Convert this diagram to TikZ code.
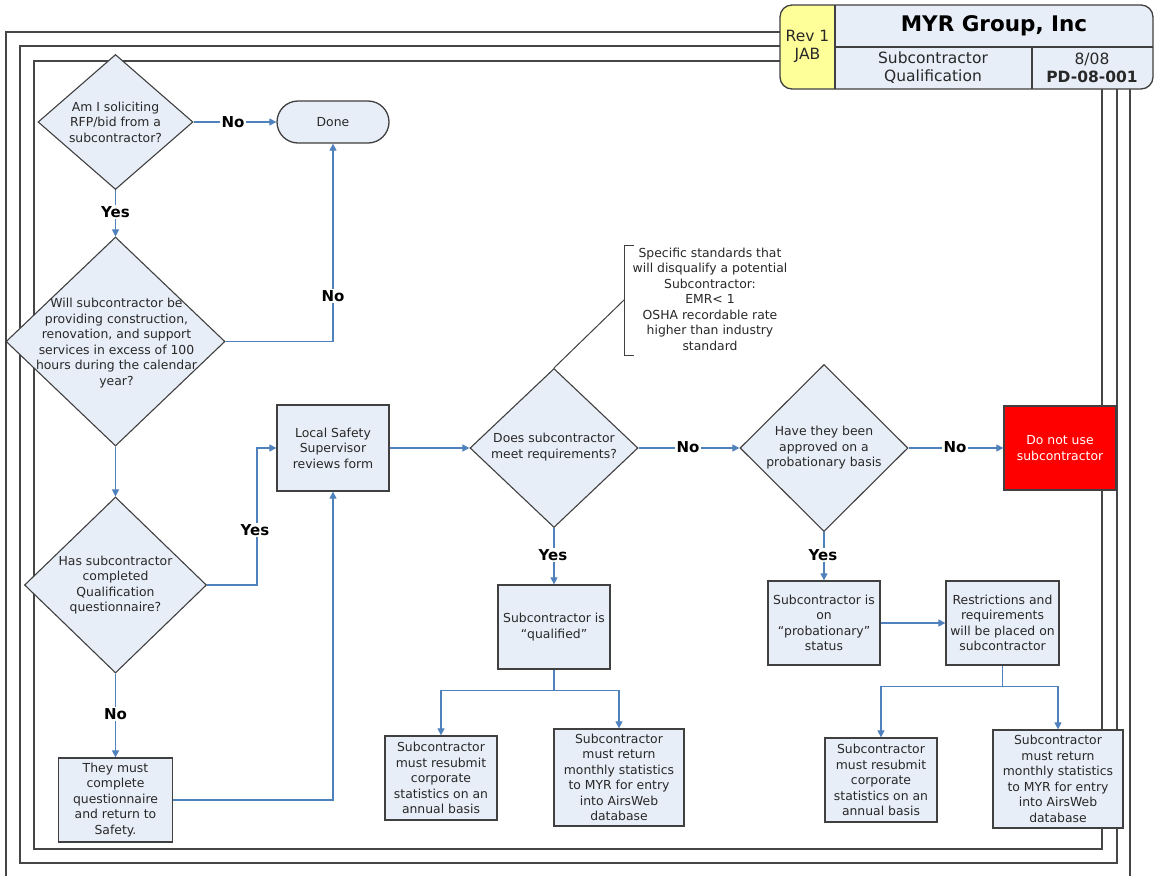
\documentclass[tikz,border=0pt]{standalone}
\usepackage{fontspec}
\setmainfont{DejaVu Sans}
\usetikzlibrary{shapes.geometric,arrows.meta,calc}
\definecolor{bf}{RGB}{232,238,248}
\definecolor{bd}{RGB}{64,64,64}
\definecolor{lc}{RGB}{79,129,189}
\definecolor{yl}{RGB}{255,255,153}
\definecolor{tx}{RGB}{40,40,40}
\definecolor{fr}{RGB}{70,70,70}
\newcommand\txtfont{\fontsize{12.4}{15.5}\selectfont}
\begin{document}
\begin{tikzpicture}[x=1pt,y=-1pt,
  dia/.style={diamond, draw=bd, fill=bf, line width=1.1pt, inner sep=0pt},
  box/.style={rectangle, draw=bd, fill=bf, line width=1.3pt, inner sep=0pt, align=center, font=\txtfont, text=tx},
  txt/.style={align=center, font=\txtfont, text=tx, inner sep=0pt},
  con/.style={draw=lc, line width=1.2pt, -{Triangle[length=7pt,width=7pt]}},
  lnk/.style={draw=lc, line width=1.2pt},
  lbl/.style={font=\bfseries\fontsize{15}{17}\selectfont, fill=white, inner sep=1.5pt, text=black},
  frame/.style={draw=fr, line width=1.3pt},
  ttl/.style={align=center, text=tx, inner sep=0pt, font=\fontsize{15.5}{18}\selectfont}]
\useasboundingbox (0,0) rectangle (1154,876);
\fill[white] (0,0) rectangle (1154,876);
% frames
\draw[frame] (6,876) -- (6,32) -- (1130,32) -- (1130,876);
\draw[frame] (20,46) rectangle (1117,863);
\draw[frame] (34,61) rectangle (1102,849);
% title block
\begin{scope}
\path[fill=bf, rounded corners=12pt] (780,5) rectangle (1153,89);
\clip[rounded corners=12pt] (780,5) rectangle (1153,89);
\fill[yl] (780,5) rectangle (835,89);
\end{scope}
\draw[bd, line width=1.3pt, rounded corners=12pt] (780,5) rectangle (1153,89);
\draw[bd, line width=1.3pt] (835,5) -- (835,89) (835,47) -- (1153,47) (1032,47) -- (1032,89);
\node[ttl] (rev) at (807.5,46) {Rev 1\\JAB};
\node[ttl, font=\bfseries\fontsize{21.5}{24}\selectfont, text=black] (company) at (994,26) {MYR Group, Inc};
\node[ttl] (subj) at (933,68) {Subcontractor\\Qualification};
\node[ttl] (docno) at (1092,68) {8/08\\\textbf{PD-08-001}};
% shapes
\node[dia, minimum width=155pt, minimum height=135pt] (d1) at (115.5,122) {};
\node[txt] (d1t) at (115.5,122) {Am I soliciting\\RFP/bid from a\\subcontractor?};
\node[box, rounded corners=21pt, minimum width=112pt, minimum height=42pt] (done) at (333,122) {Done};
\node[dia, minimum width=219pt, minimum height=209pt] (d2) at (115.5,341.5) {};
\node[txt] (d2t) at (116.5,343) {Will subcontractor be\\providing construction,\\renovation, and support\\services in excess of 100\\hours during the calendar\\year?};
\node[dia, minimum width=182pt, minimum height=176pt] (d3) at (115.5,585) {};
\node[txt] (d3t) at (115.5,585) {Has subcontractor\\completed\\Qualification\\questionnaire?};
\node[box, minimum width=114pt, minimum height=84pt] (they) at (115.5,800) {They must\\complete\\questionnaire\\and return to\\Safety.};
\node[box, minimum width=112pt, minimum height=86pt] (lss) at (333,448) {Local Safety\\Supervisor\\reviews form};
\node[dia, minimum width=168pt, minimum height=159pt] (d4) at (554,448) {};
\node[txt] (d4t) at (554,447) {Does subcontractor\\meet requirements?};
\node[dia, minimum width=168pt, minimum height=167pt] (d5) at (824,448) {};
\node[txt] (d5t) at (824,448) {Have they been\\approved on a\\probationary basis};
\node[box, fill=red, text=white, minimum width=112pt, minimum height=84pt] (stop) at (1060,448) {Do not use\\subcontractor};
\node[box, minimum width=112pt, minimum height=84pt] (q) at (554,627) {Subcontractor is\\“qualified”};
\node[box, minimum width=112pt, minimum height=84pt] (a1) at (441,778) {Subcontractor\\must resubmit\\corporate\\statistics on an\\annual basis};
\node[box, minimum width=130pt, minimum height=97pt] (a2) at (619,777.5) {Subcontractor\\must return\\monthly statistics\\to MYR for entry\\into AirsWeb\\database};
\node[box, minimum width=112pt, minimum height=84pt] (p) at (824,623) {Subcontractor is\\on\\“probationary”\\status};
\node[box, minimum width=113pt, minimum height=84pt] (r) at (1002.5,623) {Restrictions and\\requirements\\will be placed on\\subcontractor};
\node[box, minimum width=112pt, minimum height=84pt] (b1) at (881,780) {Subcontractor\\must resubmit\\corporate\\statistics on an\\annual basis};
\node[box, minimum width=130pt, minimum height=98pt] (b2) at (1058,779) {Subcontractor\\must return\\monthly statistics\\to MYR for entry\\into AirsWeb\\database};
% annotation
\coordinate (bk) at (624,300);
\draw[bd, line width=1pt] (634,245) -- (624,245) -- (624,355) -- (634,355);
\draw[bd, line width=1pt] (d4.north) -- (bk);
\node[txt] (note) at (710,299) {Specific standards that\\will disqualify a potential\\Subcontractor:\\EMR< 1\\OSHA recordable rate\\higher than industry\\standard};
% connectors
\draw[con] (d1.east) -- (done.west);
\draw[con] (d1.south) -- (d2.north);
\draw[con] (d2.east) -| (done.south);
\draw[con] (d2.south) -- (d3.north);
\coordinate (c1) at (257,585);
\draw[con] (d3.east) -- (c1) |- (lss.west);
\draw[con] (d3.south) -- (they.north);
\draw[con] (they.east) -| (lss.south);
\draw[con] (lss.east) -- (d4.west);
\draw[con] (d4.east) -- (d5.west);
\draw[con] (d5.east) -- (stop.west);
\draw[con] (d4.south) -- (q.north);
\draw[lnk] (q.south) -- ++(0,21) coordinate (qj);
\draw[con] (qj) -| (a1.north);
\draw[con] (qj) -| (a2.north);
\draw[con] (d5.south) -- (p.north);
\draw[con] (p.east) -- (r.west);
\draw[lnk] (r.south) -- ++(0,21) coordinate (rj);
\draw[con] (rj) -| (b1.north);
\draw[con] (rj) -| (b2.north);
% labels
\node[lbl] (l1) at (233,122) {No};
\node[lbl] (l2) at (115.5,212) {Yes};
\node[lbl] (l3) at (333,296) {No};
\node[lbl] (l4) at (255,530) {Yes};
\node[lbl] (l5) at (115.5,714) {No};
\node[lbl] (l6) at (688,447) {No};
\node[lbl] (l7) at (955,447) {No};
\node[lbl] (l8) at (553,555) {Yes};
\node[lbl] (l9) at (823,555) {Yes};
\end{tikzpicture}
\end{document}
